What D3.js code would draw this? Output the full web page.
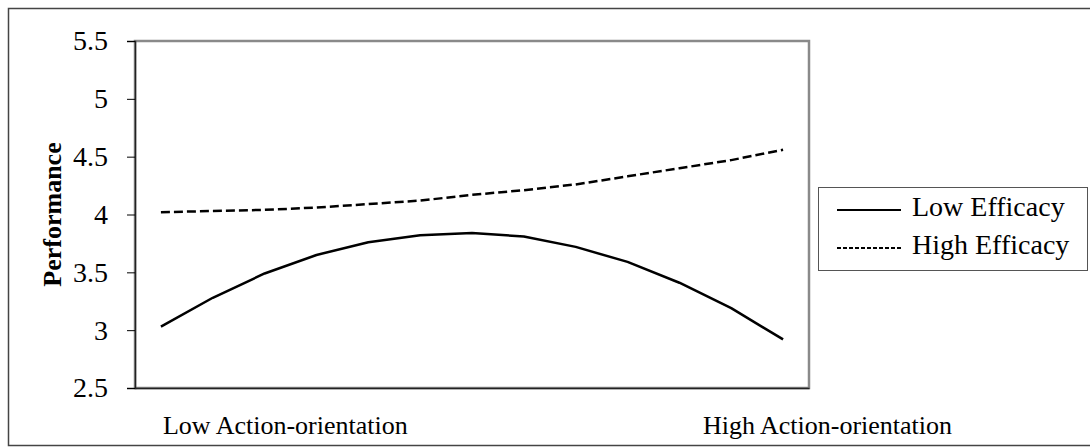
<!DOCTYPE html>
<html>
<head>
<meta charset="utf-8">
<script src="https://cdn.jsdelivr.net/npm/d3@7/dist/d3.min.js"></script>
<style>
  html, body { margin: 0; padding: 0; background: #fff; }
  svg { display: block; }
  text { font-family: "Liberation Serif", "Times New Roman", serif; fill: #000; }
</style>
</head>
<body>
<svg id="chart" width="1090" height="447"></svg>
<script>
// ---- data ----
const categories = ["1","2","3","4","5","6","7","8","9","10","11","12","13"];
const lowEfficacy  = [3.03, 3.28, 3.49, 3.65, 3.76, 3.82, 3.84, 3.81, 3.72, 3.59, 3.41, 3.19, 2.92];
const highEfficacy = [4.02, 4.03, 4.04, 4.06, 4.09, 4.12, 4.17, 4.21, 4.26, 4.33, 4.40, 4.47, 4.56];
const yTicks = [2.5, 3, 3.5, 4, 4.5, 5, 5.5];
const xEndLabels = ["Low Action-orientation", "High Action-orientation"];
const seriesNames = ["Low Efficacy", "High Efficacy"];
const yTitle = "Performance";

// ---- layout ----
const svg = d3.select("#chart");
const plot = { left: 135, top: 41, right: 809, bottom: 388 };

// outer frame
svg.append("rect")
  .attr("x", 8.5).attr("y", 8.5)
  .attr("width", 1100).attr("height", 437)
  .attr("fill", "none").attr("stroke", "#444").attr("stroke-width", 1.5);

const x = d3.scaleBand().domain(categories).range([plot.left, plot.right]);
const y = d3.scaleLinear().domain([2.5, 5.5]).range([plot.bottom, plot.top]);

// plot area border (top/right grey)
svg.append("rect")
  .attr("x", plot.left).attr("y", plot.top)
  .attr("width", plot.right - plot.left).attr("height", plot.bottom - plot.top)
  .attr("fill", "none").attr("stroke", "#8a8a8a").attr("stroke-width", 2.5);

// y axis
const yAxis = d3.axisLeft(y).tickValues(yTicks).tickSize(8).tickPadding(19)
  .tickFormat(d => d3.format("")(d));
const gy = svg.append("g").attr("transform", `translate(${plot.left},0)`).call(yAxis);
gy.attr("font-family", null).attr("font-size", null);
gy.select(".domain").attr("stroke", "#222").attr("stroke-width", 1.5);
gy.selectAll(".tick line").attr("stroke", "#000").attr("stroke-width", 1);
gy.selectAll(".tick text")
  .style("font-family", '"Liberation Serif", "Times New Roman", serif')
  .style("font-size", "28px").attr("fill", "#000").attr("dy", "0.32em");

// x axis (baseline only)
const xAxis = d3.axisBottom(x).tickSize(0).tickFormat("");
const gx = svg.append("g").attr("transform", `translate(0,${plot.bottom})`).call(xAxis);
gx.select(".domain").attr("stroke", "#222").attr("stroke-width", 1.5);

// x end labels
svg.append("text")
  .attr("x", x(categories[0]) + x.bandwidth() / 2 + 2).attr("y", 434)
  .attr("text-anchor", "start").style("font-size", "26px")
  .text(xEndLabels[0]);
svg.append("text")
  .attr("x", x(categories[categories.length - 1]) + x.bandwidth() / 2 + 169).attr("y", 434)
  .attr("text-anchor", "end").style("font-size", "26px")
  .text(xEndLabels[1]);

// y title
svg.append("text")
  .attr("transform", `translate(61,${(plot.top + plot.bottom) / 2}) rotate(-90)`)
  .attr("text-anchor", "middle").style("font-size", "26px").style("font-weight", "bold")
  .text(yTitle);

// lines
const line = d3.line()
  .x((d, i) => x(categories[i]) + x.bandwidth() / 2)
  .y(d => y(d));

svg.append("path").datum(lowEfficacy)
  .attr("d", line).attr("fill", "none")
  .attr("stroke", "#000").attr("stroke-width", 2.5).attr("stroke-linejoin", "round");
svg.append("path").datum(highEfficacy)
  .attr("d", line).attr("fill", "none")
  .attr("stroke", "#000").attr("stroke-width", 2.5).attr("stroke-dasharray", "9,4");

// legend
const lg = svg.append("g");
lg.append("rect")
  .attr("x", 818.5).attr("y", 187.5).attr("width", 269).attr("height", 83)
  .attr("fill", "#fff").attr("stroke", "#555").attr("stroke-width", 1);
const legendRows = [
  { name: seriesNames[0], dash: null, y: 210 },
  { name: seriesNames[1], dash: "4,2", y: 248 }
];
legendRows.forEach(r => {
  lg.append("line")
    .attr("x1", 837).attr("x2", 901).attr("y1", r.y).attr("y2", r.y)
    .attr("stroke", "#000").attr("stroke-width", 2)
    .attr("stroke-dasharray", r.dash);
  lg.append("text")
    .attr("x", 912).attr("y", r.y + 6)
    .style("font-size", "28px")
    .text(r.name);
});
</script>
</body>
</html>
